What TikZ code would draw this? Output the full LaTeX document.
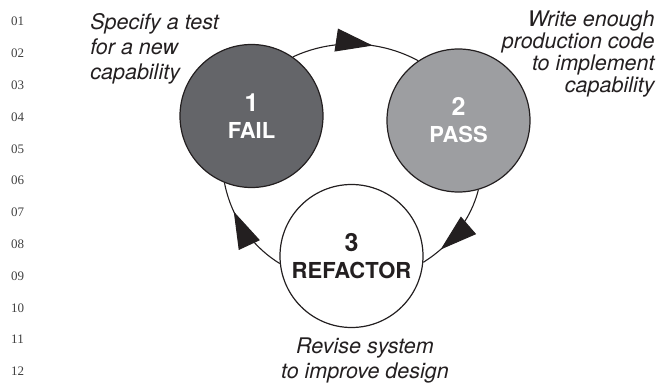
\documentclass[tikz,border=0pt]{standalone}
\usepackage{fontspec}
\setmainfont{Liberation Serif}
\setsansfont{TeX Gyre Heros}
\usetikzlibrary{arrows.meta,decorations.markings}
\definecolor{failgray}{HTML}{646569}
\definecolor{passgray}{HTML}{9D9EA1}
\definecolor{ink}{HTML}{231F20}
\definecolor{margingray}{HTML}{404040}
\newcommand{\phasenum}[1]{{\fontsize{12.5}{13.5}\selectfont #1}}

\begin{document}
\begin{tikzpicture}
  [
    x=0.5pt, y=0.5pt,
    phase/.style={circle,draw=ink,line width=0.6pt,minimum size=71.5pt,inner sep=0pt,
      align=center,font=\sffamily\bfseries\fontsize{11}{13.5}\selectfont},
    note/.style={inner sep=0pt,text=ink,font=\sffamily\itshape\fontsize{10.75}{12.5}\selectfont},
    lineno/.style={inner sep=0pt,text=margingray,font=\fontsize{6.5}{7}\selectfont},
    loopedge/.style={ink,line width=0.55pt,postaction={decorate},
      decoration={markings,mark=at position #1 with {\arrow{Triangle[length=18.5pt,width=11.5pt]}}}}
  ]
  \useasboundingbox (0,0) rectangle (661,-386);
  % margin line numbers
  \foreach \n [count=\i from 0] in {01,02,03,04,05,06,07,08,09,10,11,12} {
    \node [lineno] (ln\n) at (17.5,-21.7-31.8*\i) {\n};
  }
  % phases
  \node [phase,fill=failgray,text=white] (fail) at (251.5,-116) {\phasenum{1}\\FAIL};
  \node [phase,fill=passgray,text=white] (pass) at (458.5,-120.5) {\phasenum{2}\\PASS};
  \node [phase,fill=white,text=ink] (refactor) at (351.5,-256) {\phasenum{3}\\REFACTOR};
  % notes
  \node [note,anchor=north west,align=left] (specify) at (90,-13.5)
    {Specify a test\\for a new\\capability};
  \node [note,anchor=north east,align=right,font=\sffamily\itshape\fontsize{10.75}{10.95}\selectfont]
    (write) at (655,-10.5) {Write enough\\production code\\to implement\\capability};
  \node [note,anchor=north,align=center] (revise) at (365,-337.5)
    {Revise system\\to improve design};
  % cycle edges
  \draw [loopedge=0.63]
  (fail.55) .. controls +(39.6,18.6) and +(-38.3,20.8) .. (pass.124);
  \draw [loopedge=0.77]
  (pass.286) .. controls +(-7.4,-29.6) and +(27.3,17.0) .. (refactor.355);
  \draw [loopedge=0.70]
  (refactor.186) .. controls +(-29.7,18.2) and +(6.2,-32.4) .. (fail.248);
\end{tikzpicture}
\end{document}
